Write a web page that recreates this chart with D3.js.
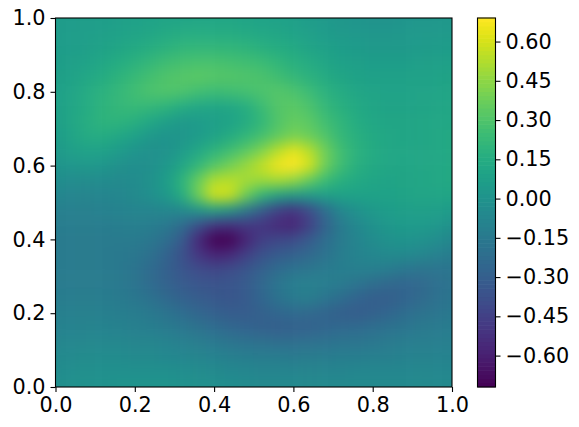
<!DOCTYPE html>
<html>
<head>
<meta charset="utf-8">
<script src="https://cdn.jsdelivr.net/npm/d3@7"></script>
<style>
  html, body { margin: 0; background: #fff; }
  text { font-family: "DejaVu Sans", sans-serif; }
</style>
</head>
<body>
<div id="chart-container"></div>
<script>
// Grid positions and values
const gridX = [0,.04,.08,.12,.16,.2,.24,.28,.32,.36,.4,.44,.48,.52,.56,.6,.64,.68,.72,.76,.8,.84,.88,.92,.96,1];
const gridY = [1,.96,.92,.88,.84,.8,.76,.72,.68,.64,.6,.56,.52,.48,.44,.4,.36,.32,.28,.24,.2,.16,.12,.08,.04,0];
const gridZ = [
  [.05,.05,.06,.06,.07,.08,.09,.10,.10,.11,.11,.11,.10,.09,.08,.07,.05,.04,.02,.01,.00,.00,.01,.02,.02,.03],
  [.05,.06,.06,.07,.08,.10,.11,.13,.14,.15,.15,.14,.13,.12,.11,.09,.07,.05,.04,.03,.02,.02,.03,.03,.04,.04],
  [.06,.06,.07,.09,.11,.13,.16,.18,.20,.21,.21,.20,.19,.17,.15,.13,.10,.08,.06,.05,.04,.04,.04,.05,.05,.06],
  [.06,.07,.09,.12,.15,.18,.22,.25,.27,.28,.28,.27,.26,.24,.21,.17,.14,.11,.08,.07,.06,.06,.06,.07,.07,.08],
  [.07,.09,.12,.15,.19,.23,.27,.30,.32,.33,.32,.31,.30,.29,.26,.22,.18,.14,.11,.09,.08,.08,.08,.09,.09,.10],
  [.08,.10,.14,.18,.22,.26,.29,.30,.29,.26,.24,.25,.27,.29,.31,.29,.24,.18,.14,.11,.10,.09,.09,.10,.10,.11],
  [.08,.11,.15,.19,.22,.23,.22,.19,.15,.12,.11,.12,.16,.24,.31,.33,.29,.22,.17,.13,.11,.10,.10,.10,.11,.12],
  [.07,.11,.16,.19,.19,.17,.12,.07,.04,.05,.07,.09,.14,.21,.30,.35,.33,.26,.20,.15,.12,.11,.11,.11,.12,.12],
  [.06,.10,.14,.15,.12,.08,.03,.01,.02,.05,.09,.14,.20,.27,.34,.40,.37,.30,.22,.17,.13,.12,.11,.11,.12,.13],
  [.04,.07,.09,.08,.05,.01,-.01,.00,.05,.12,.19,.26,.33,.42,.54,.63,.54,.38,.26,.18,.14,.12,.12,.12,.12,.13],
  [.01,.02,.03,.02,-.01,-.03,-.02,.03,.11,.21,.31,.39,.47,.56,.66,.72,.60,.38,.25,.17,.13,.12,.11,.12,.12,.13],
  [-.03,-.04,-.04,-.04,-.05,-.04,-.01,.06,.19,.36,.52,.54,.50,.48,.50,.46,.35,.24,.17,.13,.11,.10,.11,.11,.12,.13],
  [-.07,-.08,-.08,-.08,-.07,-.05,-.02,.04,.16,.38,.60,.58,.38,.20,.10,.05,.05,.07,.09,.09,.09,.09,.10,.11,.11,.11],
  [-.11,-.11,-.11,-.10,-.09,-.08,-.08,-.07,-.05,.02,.08,.02,-.14,-.30,-.44,-.50,-.40,-.22,-.07,.00,.04,.06,.07,.07,.07,.05],
  [-.13,-.13,-.13,-.13,-.12,-.11,-.12,-.15,-.22,-.36,-.48,-.50,-.48,-.50,-.56,-.58,-.46,-.28,-.14,-.06,.00,.03,.05,.05,.03,.00],
  [-.14,-.14,-.14,-.14,-.14,-.14,-.16,-.21,-.32,-.55,-.74,-.74,-.58,-.46,-.42,-.40,-.32,-.22,-.14,-.08,-.04,.00,.01,.00,-.03,-.07],
  [-.14,-.14,-.14,-.14,-.15,-.16,-.20,-.27,-.37,-.50,-.58,-.56,-.46,-.37,-.32,-.29,-.25,-.19,-.13,-.09,-.07,-.05,-.05,-.07,-.10,-.13],
  [-.14,-.14,-.14,-.14,-.15,-.18,-.23,-.29,-.35,-.40,-.42,-.40,-.35,-.29,-.23,-.19,-.17,-.14,-.12,-.11,-.11,-.13,-.16,-.18,-.18,-.17],
  [-.14,-.14,-.14,-.14,-.15,-.18,-.23,-.28,-.32,-.35,-.36,-.35,-.32,-.25,-.17,-.12,-.11,-.12,-.14,-.18,-.22,-.25,-.26,-.25,-.21,-.18],
  [-.13,-.13,-.13,-.13,-.14,-.16,-.19,-.24,-.28,-.31,-.33,-.34,-.32,-.26,-.19,-.14,-.13,-.17,-.22,-.27,-.30,-.30,-.27,-.24,-.20,-.17],
  [-.11,-.11,-.11,-.11,-.12,-.13,-.15,-.18,-.22,-.26,-.29,-.31,-.31,-.29,-.26,-.24,-.25,-.27,-.30,-.31,-.29,-.26,-.22,-.19,-.17,-.15],
  [-.10,-.09,-.09,-.09,-.10,-.11,-.12,-.14,-.16,-.19,-.22,-.25,-.27,-.29,-.30,-.29,-.28,-.26,-.24,-.23,-.21,-.19,-.17,-.15,-.14,-.13],
  [-.08,-.07,-.07,-.07,-.07,-.08,-.08,-.09,-.11,-.13,-.15,-.17,-.19,-.20,-.21,-.21,-.20,-.19,-.18,-.17,-.16,-.14,-.13,-.12,-.12,-.11],
  [-.05,-.05,-.04,-.04,-.04,-.05,-.05,-.06,-.07,-.08,-.09,-.11,-.12,-.13,-.13,-.14,-.13,-.13,-.12,-.12,-.11,-.11,-.10,-.09,-.09,-.09],
  [-.04,-.03,-.02,-.02,-.02,-.02,-.02,-.02,-.03,-.04,-.05,-.06,-.07,-.08,-.08,-.08,-.08,-.08,-.08,-.07,-.07,-.07,-.07,-.07,-.07,-.07],
  [-.02,-.01,.00,.00,.01,.01,.01,.01,.00,-.01,-.02,-.03,-.04,-.05,-.05,-.05,-.05,-.05,-.05,-.05,-.05,-.05,-.05,-.05,-.05,-.05]
];
const xTicks = [0, .2, .4, .6, .8, 1];
const yTicks = [0, .2, .4, .6, .8, 1];
const barTicks = [.6, .45, .3, .15, 0, -.15, -.3, -.45, -.6];
const vMin = -0.72;
const vMax = 0.69;

const margin = { top: 18, left: 55.5 };
const width = 396.5;
const height = 369;
const barX = 477.5;
const barWidth = 18;

const svg = d3.select('#chart-container')
    .append('svg')
    .attr('width', 579)
    .attr('height', 427)
    .style('display', 'block');

const defs = svg.append('defs');
defs.append('clipPath').attr('id', 'plot-clip')
    .append('rect').attr('width', width).attr('height', height);
// smooths the grid cells, same job as imshow's interpolation
defs.append('filter').attr('id', 'smooth')
    .attr('filterUnits', 'userSpaceOnUse')
    .attr('x', -60).attr('y', -60).attr('width', width + 120).attr('height', height + 120)
    .attr('color-interpolation-filters', 'sRGB')
    .append('feGaussianBlur').attr('stdDeviation', 7);

const xScale = d3.scaleLinear().domain([0, 1]).range([0, width]);
const yScale = d3.scaleLinear().domain([0, 1]).range([height, 0]);
const colorScale = d3.scaleSequential(d3.interpolateViridis).domain([vMin, vMax]).clamp(true);

const g = svg.append('g').attr('transform', `translate(${margin.left},${margin.top})`);

// Heatmap cells, the outer ones run past the frame so the blur keeps its edge colour
const half = 0.02;
const cells = g.append('g').attr('clip-path', 'url(#plot-clip)')
    .append('g').attr('filter', 'url(#smooth)');
gridY.forEach((yv, r) => {
    gridX.forEach((xv, c) => {
        const x0 = c === 0 ? -0.15 : xv - half;
        const x1 = c === gridX.length - 1 ? 1.15 : xv + half;
        const y0 = r === gridY.length - 1 ? -0.15 : yv - half;
        const y1 = r === 0 ? 1.15 : yv + half;
        cells.append('rect')
            .attr('x', xScale(x0))
            .attr('y', yScale(y1))
            .attr('width', xScale(x1) - xScale(x0) + 0.5)
            .attr('height', yScale(y0) - yScale(y1) + 0.5)
            .attr('fill', colorScale(gridZ[r][c]));
    });
});

const styleAxis = sel => {
    sel.selectAll('text').attr('font-size', 20.8).attr('fill', '#000');
    sel.selectAll('line').attr('stroke', '#000').attr('stroke-width', 1.1);
};

// Axes
g.append('g')
    .attr('transform', `translate(0,${height})`)
    .call(d3.axisBottom(xScale).tickValues(xTicks).tickFormat(d3.format('.1f')).tickSize(5).tickPadding(5).tickSizeOuter(0))
    .call(styleAxis)
    .call(s => s.select('.domain').remove());
g.append('g')
    .call(d3.axisLeft(yScale).tickValues(yTicks).tickFormat(d3.format('.1f')).tickSize(5).tickPadding(5).tickSizeOuter(0))
    .call(styleAxis)
    .call(s => s.select('.domain').remove());
g.append('rect')
    .attr('width', width).attr('height', height)
    .attr('fill', 'none').attr('stroke', '#000').attr('stroke-width', 1.1);

// Colorbar
const barG = svg.append('g').attr('transform', `translate(${barX},${margin.top})`);
const barScale = d3.scaleLinear().domain([vMin, vMax]).range([height, 0]);
const levels = d3.range(vMin, vMax, (vMax - vMin) / 90);
barG.selectAll('.level')
    .data(levels)
    .enter()
    .append('rect')
    .attr('class', 'level')
    .attr('x', 0)
    .attr('width', barWidth)
    .attr('y', d => barScale(d) - height / 90 - 0.3)
    .attr('height', height / 90 + 0.6)
    .attr('fill', d => colorScale(d + (vMax - vMin) / 180));
barG.append('g')
    .attr('transform', `translate(${barWidth},0)`)
    .call(d3.axisRight(barScale).tickValues(barTicks)
        .tickFormat(d => d3.format('.2f')(d).replace('-', '\u2212'))
        .tickSize(5).tickPadding(5).tickSizeOuter(0))
    .call(styleAxis)
    .call(s => s.select('.domain').remove());
barG.append('rect')
    .attr('width', barWidth).attr('height', height)
    .attr('fill', 'none').attr('stroke', '#000').attr('stroke-width', 1.1);
</script>
</body>
</html>
